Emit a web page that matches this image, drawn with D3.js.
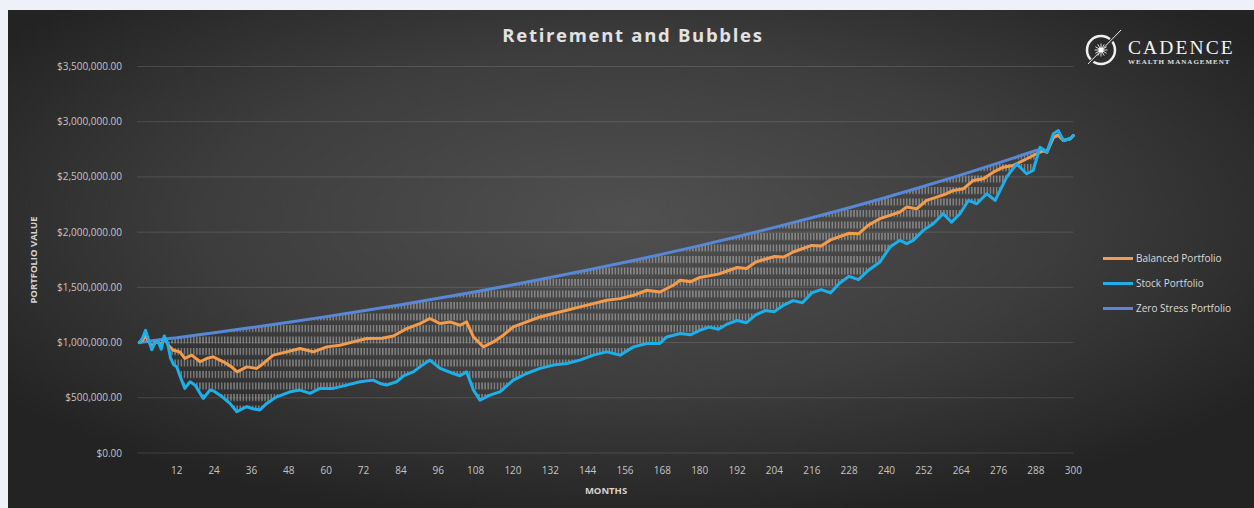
<!DOCTYPE html>
<html><head><meta charset="utf-8">
<script src="https://cdn.jsdelivr.net/npm/d3@7/dist/d3.min.js"></script>
<style>
html,body{margin:0;padding:0;background:#eef2f8;}
svg{display:block;}
</style></head>
<body><svg id="c" width="1254" height="508"></svg>
<script>
// ---- data (values in $ thousands, [month, value]) ----
const title = "Retirement and Bubbles";
const seriesNames = ["Balanced Portfolio", "Stock Portfolio", "Zero Stress Portfolio"];
const xTicks = d3.range(12, 301, 12);
const yTicks = [0, 500, 1000, 1500, 2000, 2500, 3000, 3500];

const stock = [[0,1000],[1,1040],[2,1110],[3,1020],[4,935],[5,1000],[6,1010],[7,940],[8,1060],[9,1000],[10,860],[11,800],[12,780],[13,700],[14.6,585],[16.3,645],[18,610],[20.5,494],[22.7,570],[24,560],[25.9,524],[29.1,449],[31.3,374],[33,400],[34.5,419],[36.5,400],[38.7,389],[40.9,449],[44.1,509],[48.4,554],[51.6,570],[54.8,540],[58,585],[62.3,585],[66.6,615],[70.9,645],[75.1,660],[77.3,630],[79.4,615],[82.6,645],[85,700],[88,735],[90.1,780],[93.3,841],[96.6,766],[100.8,720],[103,700],[105.1,735],[107.3,570],[109.4,479],[112.6,524],[115.8,554],[120.1,660],[124.4,720],[128.7,766],[133,796],[137.3,811],[141.5,841],[145.8,886],[150.1,916],[154.4,886],[158.7,961],[163,992],[167.2,992],[169.4,1051],[173.7,1082],[177,1070],[180,1110],[183,1140],[186,1120],[189,1170],[192,1200],[195,1180],[198,1250],[201,1290],[204,1280],[207,1340],[210,1380],[213,1360],[216,1450],[219,1480],[222,1450],[225,1540],[228,1600],[231,1570],[234,1650],[237.9,1730],[241.1,1865],[244.3,1926],[246.5,1896],[248.6,1926],[251.8,2016],[255,2076],[258.2,2167],[260.9,2091],[263.6,2167],[266.3,2287],[269,2257],[272.2,2348],[274.9,2287],[278.6,2498],[281.8,2619],[285,2529],[287.1,2558],[289.3,2769],[291.5,2724],[293.6,2890],[295.2,2920],[296.8,2830],[299,2845],[300,2875]];

const balanced = [[0,1000],[1,1020],[2,1060],[3,1010],[4,965],[5,1000],[6,1005],[7,975],[8,1045],[9.3,976],[10.9,931],[13,916],[14.6,856],[16.8,886],[19.5,826],[21.6,856],[23.7,871],[27,826],[29.6,780],[31.4,735],[34.5,780],[37.7,766],[39.8,811],[43,886],[47.3,916],[51.6,946],[55.9,916],[60.2,961],[64.4,976],[68.7,1006],[73,1037],[78,1040],[81.6,1060],[85.9,1127],[90.1,1172],[93.3,1218],[96.6,1172],[99.8,1187],[103,1157],[105.1,1187],[107.3,1051],[110.5,961],[113.7,1006],[116.9,1067],[120.1,1142],[124.4,1187],[128.7,1232],[133,1263],[137.3,1293],[141.5,1323],[145.8,1353],[150.1,1383],[154.4,1398],[158.7,1428],[163,1474],[167.2,1458],[171.5,1519],[173.7,1564],[177,1550],[180,1590],[186,1620],[192,1680],[195,1670],[198,1730],[204,1780],[207,1775],[210,1820],[216,1880],[219,1875],[222,1930],[228,1990],[231,1985],[234,2060],[237.9,2122],[241.1,2152],[244.3,2182],[246.5,2227],[249.7,2212],[252.9,2287],[256.1,2317],[259.3,2348],[261.5,2378],[264.7,2393],[267.9,2468],[271.1,2483],[274.3,2543],[277.5,2588],[280.7,2604],[284,2649],[287.1,2694],[290.4,2739],[291.5,2724],[293.6,2860],[295.2,2880],[296.8,2830],[299,2845],[300,2875]];

const zeroStress = [[0,1000],[2,1008],[4,1016],[6,1024],[8,1032],[12,1044],[24,1089],[36,1136],[48,1185],[60,1235],[72,1288],[84,1343],[96,1401],[108,1461],[120,1523],[132,1589],[144,1657],[156,1727],[168,1801],[180,1878],[192,1959],[204,2043],[216,2130],[228,2221],[240,2316],[252,2416],[264,2519],[276,2627],[288,2739],[290.4,2750],[291.5,2724],[293.6,2855],[295.2,2875],[296.8,2830],[299,2845],[300,2875]];

const colors = {balanced:"#f49b4c", stock:"#1cb0ea", zero:"#5887d6"};

// ---- layout ----
const svg = d3.select("#c");
const W = 1254, H = 508;
const defs = svg.append("defs");
const rg = defs.append("radialGradient").attr("id","bg").attr("cx","0.5").attr("cy","0.42").attr("r","0.62");
rg.append("stop").attr("offset","0").attr("stop-color","#505050");
rg.append("stop").attr("offset","0.55").attr("stop-color","#3d3d3d");
rg.append("stop").attr("offset","1").attr("stop-color","#232323");

const pat = defs.append("pattern").attr("id","hatch").attr("patternUnits","userSpaceOnUse")
  .attr("width",3.1).attr("height",11.5).attr("x",0).attr("y",3);
pat.append("rect").attr("x",1).attr("y",0).attr("width",1.1).attr("height",7).attr("fill","rgba(215,215,215,0.6)");

svg.append("rect").attr("width",W).attr("height",H).attr("fill","#eef2f8");
svg.append("rect").attr("x",8).attr("y",10).attr("width",W-8).attr("height",H-10).attr("fill","url(#bg)");

const x = d3.scaleLinear().domain([0,300]).range([139.4,1073.3]);
const y = d3.scaleLinear().domain([0,3500]).range([453,66.5]);

// gridlines
svg.append("g").selectAll("line").data(yTicks).join("line")
  .attr("x1",137).attr("x2",1073.3).attr("y1",d=>y(d)).attr("y2",d=>y(d))
  .attr("stroke","rgba(255,255,255,0.13)").attr("stroke-width",1);

// y labels
const fmt = d3.format(",.2f");
svg.append("g").selectAll("text").data(yTicks).join("text")
  .attr("x",122).attr("y",d=>y(d)).attr("dy","0.35em").attr("text-anchor","end")
  .attr("font-family","Open Sans").attr("font-size",10).attr("fill","#c4c4c4")
  .text(d=>"$"+fmt(d*1000));

// x labels
svg.append("g").selectAll("text").data(xTicks).join("text")
  .attr("x",d=>x(d)).attr("y",470).attr("dy","0.35em").attr("text-anchor","middle")
  .attr("font-family","Open Sans").attr("font-size",10).attr("fill","#c4c4c4")
  .text(d=>d);

// axis titles
svg.append("text").attr("x",606).attr("y",491).attr("dy","0.35em").attr("text-anchor","middle")
  .attr("font-family","Open Sans").attr("font-weight","bold").attr("font-size",9.5).attr("fill","#d2d2d2").text("MONTHS");
svg.append("text").attr("transform","translate(34,260) rotate(-90)").attr("dy","0.35em").attr("text-anchor","middle")
  .attr("font-family","Open Sans").attr("font-weight","bold").attr("font-size",9.5).attr("fill","#d2d2d2").text("PORTFOLIO VALUE");

// title
svg.append("text").attr("x",633).attr("y",36).attr("dy","0.35em").attr("text-anchor","middle")
  .attr("font-family","Open Sans").attr("font-weight","bold").attr("font-size",18.5).attr("letter-spacing",1.7)
  .attr("fill","#e2e2e2").text(title);

// hatched area between zero-stress and stock
const lo = 9, hi = 289.5;
const topPts = zeroStress.filter(d=>d[0]>=lo && d[0]<=hi);
const botPts = stock.filter(d=>d[0]>=lo && d[0]<=hi).slice().reverse();
const poly = topPts.concat(botPts);
svg.append("path").attr("d", d3.line().x(d=>x(d[0])).y(d=>y(d[1]))(poly)+"Z").attr("fill","url(#hatch)");

const line = d3.line().x(d=>x(d[0])).y(d=>y(d[1]));
function drawSeries(data,color){
  svg.append("path").attr("d",line(data)).attr("fill","none").attr("stroke",color)
    .attr("stroke-width",3).attr("stroke-linejoin","round").attr("stroke-linecap","round");
}
drawSeries(zeroStress, colors.zero);
drawSeries(balanced, colors.balanced);
drawSeries(stock, colors.stock);

// legend
const leg = [[seriesNames[0],colors.balanced],[seriesNames[1],colors.stock],[seriesNames[2],colors.zero]];
const lg = svg.append("g").selectAll("g").data(leg).join("g").attr("transform",(d,i)=>`translate(0,${258.5+i*25})`);
lg.append("line").attr("x1",1103).attr("x2",1133).attr("stroke",d=>d[1]).attr("stroke-width",3);
lg.append("text").attr("x",1136).attr("dy","0.35em").attr("font-family","Open Sans").attr("font-size",10)
  .attr("fill","#dadada").text(d=>d[0]);

// logo
const logo = svg.append("g");
logo.append("circle").attr("cx",1101).attr("cy",50).attr("r",14).attr("fill","none").attr("stroke","#f0f0f0").attr("stroke-width",2.5);
logo.append("circle").attr("cx",1101).attr("cy",50).attr("r",9).attr("fill","#2a2a2a");
logo.append("line").attr("x1",1087).attr("y1",66).attr("x2",1122).attr("y2",29).attr("stroke","#2e2e2e").attr("stroke-width",3.5);
logo.append("line").attr("x1",1088).attr("y1",64).attr("x2",1121).attr("y2",30).attr("stroke","#e8e8e8").attr("stroke-width",1);
logo.selectAll(".ray").data(d3.range(0,360,30)).join("line")
  .attr("x1",1101).attr("y1",50)
  .attr("x2",d=>1101+6.5*Math.cos(d*Math.PI/180)).attr("y2",d=>50+6.5*Math.sin(d*Math.PI/180))
  .attr("stroke","#dddddd").attr("stroke-width",1);
logo.append("circle").attr("cx",1101).attr("cy",50).attr("r",2.5).attr("fill","#ffffff");
logo.append("text").attr("x",1128).attr("y",53.5).attr("font-family","Liberation Serif").attr("font-size",19.5)
  .attr("letter-spacing",2.1).attr("fill","#f2f2f2").text("CADENCE");
logo.append("text").attr("x",1128).attr("y",63.5).attr("font-family","Liberation Serif").attr("font-weight","bold").attr("font-size",7)
  .attr("letter-spacing",1.0).attr("fill","#e0e0e0").text("WEALTH MANAGEMENT");
</script></body></html>
